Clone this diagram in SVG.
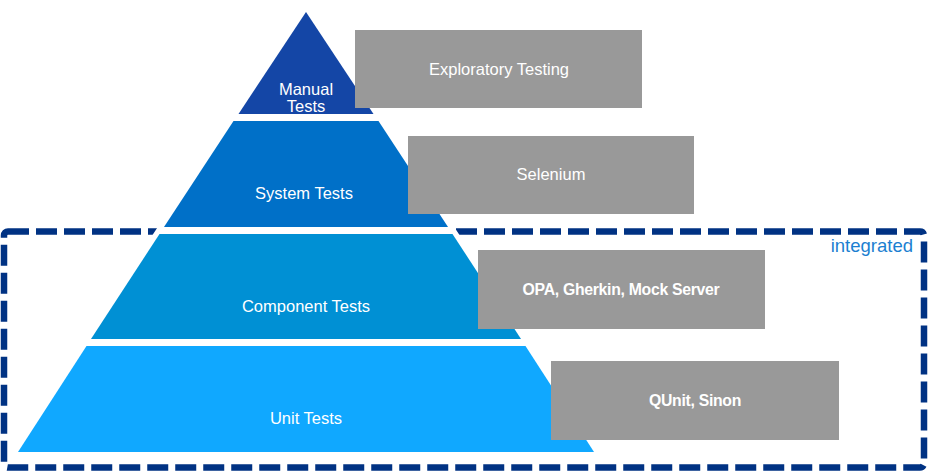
<svg xmlns="http://www.w3.org/2000/svg" width="928" height="471" viewBox="0 0 928 471">
<style>
.lbl{font-family:"Liberation Sans",Arial,sans-serif;font-size:16.5px;fill:#ffffff;text-anchor:middle}
.box{fill:#999999}
.bold{font-weight:bold;font-size:15.8px;letter-spacing:-0.3px}
</style>
<rect width="928" height="471" fill="#ffffff"/>
<g id="integrated">
<rect x="4" y="231.5" width="920" height="236" rx="4" fill="none" stroke="#003283" stroke-width="6.5" stroke-dasharray="21 7"/>
<text x="913" y="252" style="font-family:'Liberation Sans',Arial,sans-serif;font-size:18.5px;fill:#1b7fd1;text-anchor:end">integrated</text>
</g>
<polygon points="306,8 12,455 600,455" fill="#ffffff" stroke="#ffffff" stroke-width="7" stroke-linejoin="round"/>
<g id="manual">
<polygon points="306,12 238.5,114 373.5,114" fill="#1446a6"/>
<text class="lbl" x="306" y="95">Manual</text>
<text class="lbl" x="306" y="112">Tests</text>
</g>
<g id="system">
<polygon points="233.5,121 378.5,121 448,227 164,227" fill="#0070c8"/>
<text class="lbl" x="304" y="199">System Tests</text>
</g>
<g id="component">
<polygon points="159.5,234 452.5,234 521,339 91,339" fill="#0090d4"/>
<text class="lbl" x="306" y="312">Component Tests</text>
</g>
<g id="unit">
<polygon points="86.5,346 525.5,346 594,452 18,452" fill="#10a8ff"/>
<text class="lbl" x="306" y="424">Unit Tests</text>
</g>
<g id="exploratory">
<rect class="box" x="355" y="30" width="287" height="78"/>
<text class="lbl" x="499" y="75">Exploratory Testing</text>
</g>
<g id="selenium">
<rect class="box" x="408" y="136" width="286" height="78"/>
<text class="lbl" x="551" y="180">Selenium</text>
</g>
<g id="opa">
<rect class="box" x="478" y="250" width="287" height="79"/>
<text class="lbl bold" x="621" y="295">OPA, Gherkin, Mock Server</text>
</g>
<g id="qunit">
<rect class="box" x="551" y="361" width="288" height="79"/>
<text class="lbl bold" x="695" y="406">QUnit, Sinon</text>
</g>
<g id="connectors"></g>
</svg>
